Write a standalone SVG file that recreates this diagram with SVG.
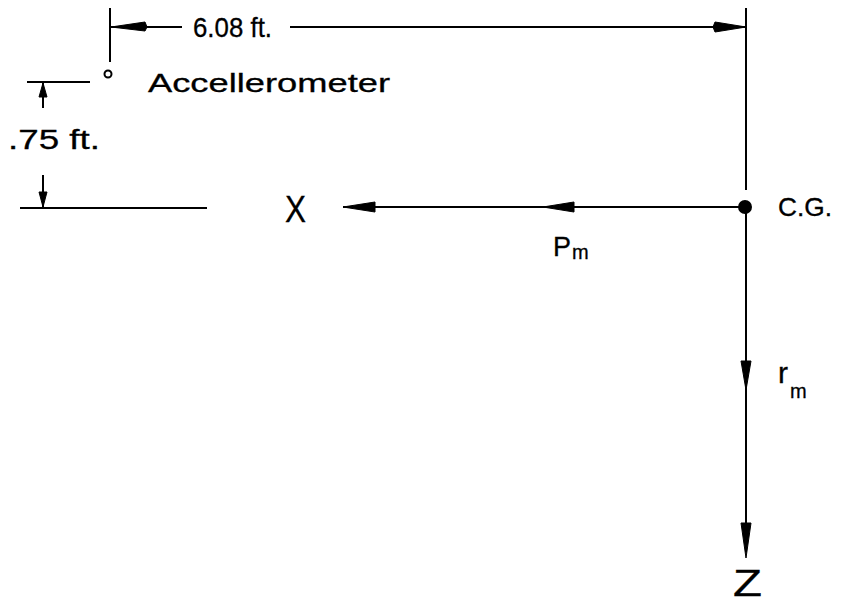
<svg xmlns="http://www.w3.org/2000/svg" width="843" height="604" viewBox="0 0 843 604">
<style>
.ln{stroke:#000;stroke-width:2;fill:none}
.ah{fill:#000;stroke:#000;stroke-width:1}
.t{font-family:"Liberation Sans",Arial,sans-serif;fill:#000;stroke:#000;stroke-width:0.3}
</style>
<rect width="843" height="604" fill="#fff"/>
<g id="connectors">
<line class="ln" x1="110" y1="8" x2="110" y2="62"/>
<line class="ln" x1="746" y1="8" x2="746" y2="190"/>
<line class="ln" x1="110" y1="27" x2="182" y2="27"/>
<polygon class="ah" points="111,27 145,22 147,27 145,31"/>
<line class="ln" x1="290" y1="27" x2="746" y2="27"/>
<polygon class="ah" points="746,27 715,22 713,27 715,32"/>
<line class="ln" x1="27" y1="82" x2="90" y2="82"/>
<line class="ln" x1="43" y1="82" x2="43" y2="108"/>
<polygon class="ah" points="43,83 39,97 47,97"/>
<line class="ln" x1="43" y1="175" x2="43" y2="208"/>
<polygon class="ah" points="43,207 39,192 47,192"/>
<line class="ln" x1="20" y1="208" x2="207" y2="208"/>
<line class="ln" x1="343" y1="207" x2="740" y2="207"/>
<polygon class="ah" points="343,207 375,202 375,212"/>
<polygon class="ah" points="543,207 574,202 574,212"/>
<line class="ln" x1="746" y1="207" x2="746" y2="552"/>
<polygon class="ah" points="746,390 741,361 751,361"/>
<polygon class="ah" points="746,558 741,523 751,523"/>
</g>
<g id="accelerometer">
<circle cx="108" cy="74" r="3.5" fill="none" stroke="#000" stroke-width="2"/>
<text class="t" x="148" y="92" font-size="26" textLength="242" lengthAdjust="spacingAndGlyphs">Accellerometer</text>
</g>
<g id="dim608">
<text class="t" x="193" y="37" font-size="28" textLength="79" lengthAdjust="spacingAndGlyphs">6.08 ft.</text>
</g>
<g id="dim075">
<text class="t" x="8" y="149" font-size="27" textLength="92" lengthAdjust="spacingAndGlyphs">.75 ft.</text>
</g>
<g id="cg">
<circle cx="745" cy="207" r="7" fill="#000"/>
<text class="t" x="778" y="216" font-size="25" textLength="54" lengthAdjust="spacingAndGlyphs">C.G.</text>
</g>
<g id="x-label">
<text class="t" x="285" y="222" font-size="36" textLength="21" lengthAdjust="spacingAndGlyphs">X</text>
</g>
<g id="pm">
<text class="t" x="553" y="256" font-size="27">P</text>
<text class="t" x="572" y="259" font-size="20">m</text>
</g>
<g id="rm">
<text class="t" x="778" y="383" font-size="30">r</text>
<text class="t" x="790" y="398" font-size="20">m</text>
</g>
<g id="z-label">
<text class="t" x="733" y="596" font-size="36" textLength="29" lengthAdjust="spacingAndGlyphs">Z</text>
</g>
</svg>
